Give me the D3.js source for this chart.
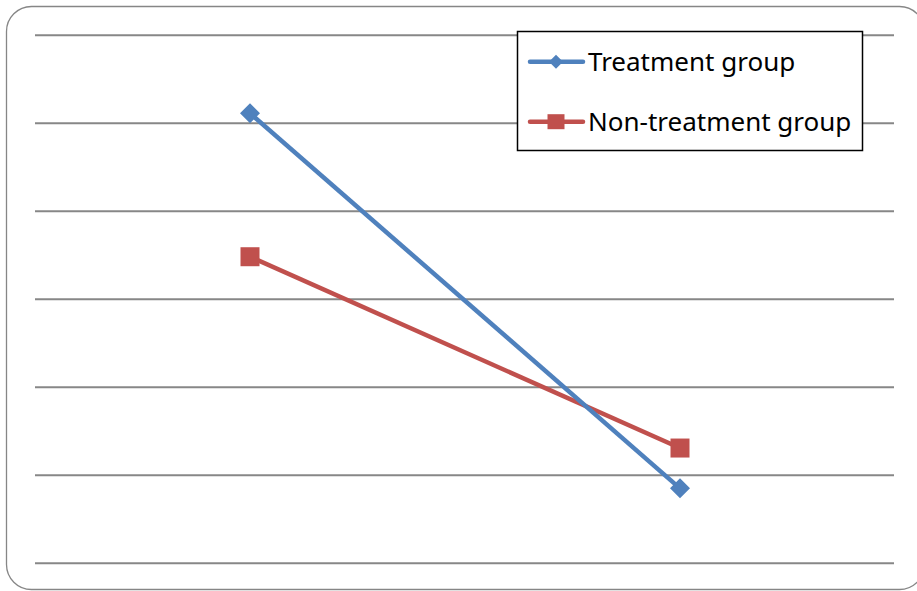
<!DOCTYPE html>
<html>
<head>
<script src="https://d3js.org/d3.v7.min.js" charset="utf-8"></script>
<style>
    body{ margin:0; background:#fff; font-family:"Noto Sans", "Open Sans", sans-serif; overflow:hidden; }
</style>
</head>
<body>
<div id="chart"></div>
<script>
// data (no axis labels shown in the original)
var categories = ["Before", "After"]
var treatment = [5.107, 0.845]
var nonTreatment = [3.477, 1.303]
var gridTicks = [0, 1, 2, 3, 4, 5, 6]
var seriesNames = ["Treatment group", "Non-treatment group"]

var W = 917, H = 591
var svg = d3.select("#chart").append("svg")
    .attr("width", W).attr("height", H)
    .style("display", "block")

// outer frame (runs off the right edge like the original)
svg.append("rect")
    .attr("x", 6.5).attr("y", 6.5)
    .attr("width", 918).attr("height", 583)
    .attr("rx", 25).attr("ry", 25)
    .attr("fill", "#fff").attr("stroke", "#868686").attr("stroke-width", 1.3)

var x = d3.scalePoint().domain(categories).range([35, 895]).padding(0.5)
var y = d3.scaleLinear().domain([0, 6]).range([562.7, 34.7])

// gridlines
svg.append("g")
    .attr("transform", "translate(35,0)")
    .call(d3.axisLeft(y).tickValues(gridTicks).tickSize(-859).tickFormat(""))
    .call(function(g){
        g.select(".domain").remove()
        g.selectAll("line").attr("stroke", "#878787").attr("stroke-width", 2)
    })

var line = d3.line()
    .x(function(d, i){ return x(categories[i]) })
    .y(function(d){ return y(d) })

var colors = ["#4f81bd", "#c0504d"]
var allSeries = [treatment, nonTreatment]

// draw red first so blue sits over it like the original
;[1, 0].forEach(function(s){
    var data = allSeries[s]
    svg.append("path").datum(data)
        .attr("d", line)
        .attr("fill", "none")
        .attr("stroke", colors[s])
        .attr("stroke-width", 4.5)
        .attr("stroke-linejoin", "round")
    svg.selectAll(".m" + s).data(data).enter()
        .append("path")
        .attr("transform", function(d, i){
            return "translate(" + x(categories[i]) + "," + y(d) + ")"
        })
        .attr("d", s == 0 ? "M0,-10L10,0L0,10L-10,0Z" : "M-9.5,-9.5H9.5V9.5H-9.5Z")
        .attr("fill", colors[s])
})

// legend
var lg = svg.append("g")
lg.append("rect")
    .attr("x", 517.5).attr("y", 31.5)
    .attr("width", 345).attr("height", 119)
    .attr("fill", "#fff").attr("stroke", "#000").attr("stroke-width", 1.5)

var rows = [61.7, 121.7]
seriesNames.forEach(function(name, i){
    lg.append("line")
        .attr("x1", 530).attr("x2", 583)
        .attr("y1", rows[i]).attr("y2", rows[i])
        .attr("stroke", colors[i]).attr("stroke-width", 4.5)
        .attr("stroke-linecap", "round")
    lg.append("path")
        .attr("transform", "translate(556," + rows[i] + ")")
        .attr("d", i == 0 ? "M0,-7L7,0L0,7L-7,0Z" : "M-8.5,-7.5H8.5V7.5H-8.5Z")
        .attr("fill", colors[i])
    lg.append("text")
        .attr("x", 588).attr("y", rows[i])
        .attr("dy", "0.36em")
        .attr("font-size", 26)
        .attr("fill", "#000")
        .text(name)
})
</script>
</body>
</html>
